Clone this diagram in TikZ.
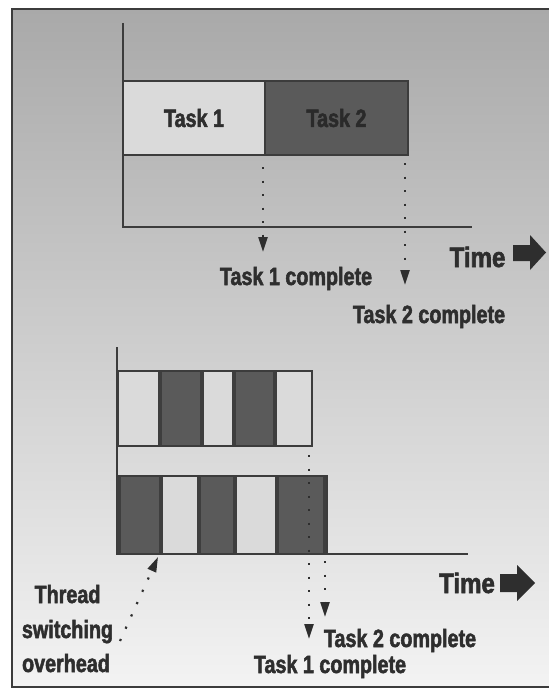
\documentclass[tikz,border=0pt]{standalone}
\usepackage{fontspec}
\usetikzlibrary{arrows.meta}
\newfontfamily\lblfont{Liberation Sans}[FakeStretch=0.79, FakeBold=2]
\newfontfamily\timefont{Liberation Sans}[FakeStretch=0.86, FakeBold=2]

\definecolor{inkcol}{HTML}{2E2E2E}
\definecolor{darkink}{HTML}{2A2A2A}
\definecolor{linecol}{HTML}{3C3C3C}
\definecolor{lightcol}{HTML}{DADADA}
\definecolor{darkcol}{HTML}{5A5A5A}
\definecolor{darkedge}{HTML}{3E3E3E}
\definecolor{bgtop}{HTML}{A9A9A9}
\definecolor{bgmid}{HTML}{D2D2D2}
\definecolor{bgbot}{HTML}{F3F3F3}

\begin{document}
\begin{tikzpicture}[x=1bp,y=-1bp,
  lbl/.style={font=\lblfont\bfseries\fontsize{25bp}{29bp}\selectfont, text=inkcol, inner sep=0pt},
  timelbl/.style={font=\timefont\bfseries\fontsize{28bp}{32bp}\selectfont, text=inkcol, inner sep=0pt},
  axis/.style={draw=linecol, line width=2bp},
  bandline/.style={draw=linecol, line width=1.5bp},
  lightbox/.style={fill=lightcol, bandline, inner sep=0pt},
  darkbox/.style={fill=darkcol, bandline, inner sep=0pt},
  lightseg/.style={fill=lightcol},
  darkseg/.style={fill=darkcol,
    path picture={
      \fill[darkedge] (path picture bounding box.south west) rectangle ([xshift=4bp]path picture bounding box.north west);
      \fill[darkedge] ([xshift=-4bp]path picture bounding box.south east) rectangle (path picture bounding box.north east);
    }},
  dotarrow/.style={draw=inkcol, line width=2.2bp, dash pattern=on 2.2bp off 11.3bp,
    -{Triangle[length=15bp,width=9bp]}},
  blockarrow/.style={fill=inkcol}
]
\useasboundingbox (0,0) rectangle (549,692);

% page and framed panel
\fill[white] (0,0) rectangle (549,692);
\shade[top color=bgtop, middle color=bgmid, bottom color=bgbot] (12,9) rectangle (549,687);
\draw[linecol, line width=1.2bp] (549,9) -- (12,9) -- (12,687) -- (549,687);

% ---------------- sequential execution ----------------
\draw[axis] (123,23) -- (123,227) -- (472,227);
\node[lightbox, minimum width=142bp, minimum height=74bp, lbl] (task1) at (194,118) {Task 1};
\node[darkbox, minimum width=143bp, minimum height=74bp, lbl, text=darkink] (task2) at (336.5,118) {Task 2};

\node[lbl, anchor=base] (done1a) at (296,285) {Task 1 complete};
\node[lbl, anchor=base] (done2a) at (429,323) {Task 2 complete};
\node[timelbl, anchor=base] (timea) at (477.5,267) {Time};
\fill[blockarrow] (513,245) -- (530,245) -- (530,235) -- (546,252.5) -- (530,270) -- (530,261) -- (513,261) -- cycle;

\coordinate (d1s) at (263,167);
\coordinate (d1e) at (263,252);
\coordinate (d2s) at (405,163);
\coordinate (d2e) at (405,285);
\draw[dotarrow] (d1s) -- (d1e);
\draw[dotarrow] (d2s) -- (d2e);

% ---------------- interleaved threads ----------------
\draw[axis] (117,347) -- (117,554) -- (468,554);

% thread running task 1
\path[lightseg] (118,371) rectangle (158,446);
\path[darkseg]  (158,371) rectangle (204,446);
\path[lightseg] (204,371) rectangle (232,446);
\path[darkseg]  (232,371) rectangle (277,446);
\path[lightseg] (277,371) rectangle (312,446);
\draw[bandline] (118,371) rectangle (312,446);

% thread running task 2
\path[darkseg]  (117,476) rectangle (163,553);
\path[lightseg] (163,476) rectangle (197,553);
\path[darkseg]  (197,476) rectangle (237,553);
\path[lightseg] (237,476) rectangle (275,553);
\path[darkseg]  (275,476) rectangle (327,553);
\draw[bandline] (117,476) -- (327,476) -- (327,553);

\node[timelbl, anchor=base] (timeb) at (467,593) {Time};
\fill[blockarrow] (500,574) -- (517,574) -- (517,565) -- (535,583) -- (517,601) -- (517,592) -- (500,592) -- cycle;

\node[lbl, anchor=base] (done2b) at (400,647) {Task 2 complete};
\node[lbl, anchor=base] (done1b) at (330,673) {Task 1 complete};

\coordinate (e1s) at (309,455);
\coordinate (e1e) at (309,639);
\coordinate (e2s) at (325,561);
\coordinate (e2e) at (325,617);
\draw[dotarrow] (e1s) -- (e1e);
\draw[dotarrow] (e2s) -- (e2e);

\node[lbl, anchor=base] (ovh1) at (67.5,603) {Thread};
\node[lbl, anchor=base] (ovh2) at (67.5,638) {switching};
\node[lbl, anchor=base] (ovh3) at (66,672) {overhead};

\coordinate (ovhtail) at (120,641);
\coordinate (ovhtip) at (158,557);
\draw[dotarrow] (ovhtail) -- (ovhtip);

\end{tikzpicture}
\end{document}
